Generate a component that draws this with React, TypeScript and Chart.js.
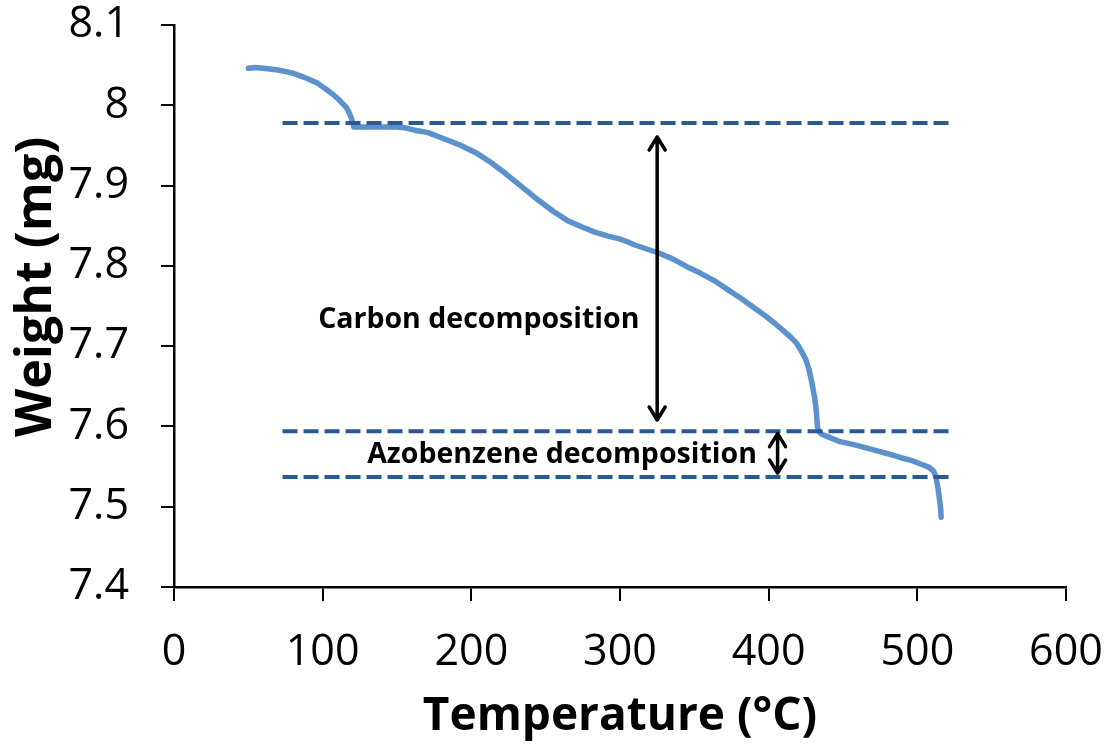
import React, { useEffect, useRef } from "react";
import { Chart, registerables } from "chart.js";

Chart.register(...registerables);

// TGA trace: sample temperature (°C) and remaining weight (mg)
const temperature = [
  50, 55, 60, 70, 80, 90, 97, 103, 108, 112, 116, 118, 119.5, 120.5, 121, 130, 140, 150, 155, 162,
  171, 182, 193, 203, 213, 223, 233, 245, 255, 265, 275, 283, 292, 299, 305, 310, 318, 326, 335, 345,
  354, 363, 372, 381, 390, 399, 405, 410, 415, 419, 422, 425, 427, 429, 431, 432, 432.8, 433.5, 436, 440,
  448, 458, 470, 480, 489, 497, 504, 508, 511, 512.5, 514, 515, 515.7, 516,
];
const weight = [
  8.046, 8.047, 8.046, 8.044, 8.04, 8.033, 8.027, 8.019, 8.012, 8.005, 7.997, 7.99, 7.983, 7.976, 7.973, 7.973, 7.973, 7.973, 7.972, 7.969,
  7.966, 7.958, 7.95, 7.941, 7.929, 7.915, 7.9, 7.882, 7.868, 7.856, 7.848, 7.842, 7.837, 7.834, 7.83, 7.826, 7.821, 7.816, 7.809, 7.799,
  7.791, 7.782, 7.771, 7.76, 7.748, 7.736, 7.727, 7.719, 7.711, 7.703, 7.694, 7.683, 7.672, 7.655, 7.635, 7.62, 7.6, 7.594, 7.59, 7.587,
  7.581, 7.577, 7.571, 7.566, 7.561, 7.557, 7.552, 7.549, 7.544, 7.537, 7.522, 7.508, 7.497, 7.487,
];

// Horizontal reference levels (mg) and the temperature span they cover
const plateauLevels = [7.978, 7.594, 7.537];
const plateauSpan = [73, 521];

// Double-headed arrows: x position (°C), top and bottom (mg)
const arrowX = [325, 406];
const arrowTop = [7.9605, 7.591];
const arrowBottom = [7.608, 7.542];

// Annotation text and anchor (°C, mg)
const noteText = ["Carbon decomposition", "Azobenzene decomposition"];
const noteX = [205, 261];
const noteY = [7.733, 7.5645];

const xTitle = "Temperature (°C)";
const yTitle = "Weight (mg)";

const CURVE = "#5B92CD";
const DASH = "#2A5A92";

const annotations = {
  id: "annotations",
  afterDatasetsDraw(chart: any) {
    const { ctx, scales } = chart;
    const xs = scales.x;
    const ys = scales.y;
    ctx.save();
    // arrows
    ctx.strokeStyle = "#000";
    ctx.lineWidth = 3.5;
    ctx.lineCap = "round";
    ctx.lineJoin = "round";
    for (let i = 0; i < arrowX.length; i++) {
      const px = xs.getPixelForValue(arrowX[i]);
      const t = ys.getPixelForValue(arrowTop[i]);
      const b = ys.getPixelForValue(arrowBottom[i]);
      const hw = 8;
      const hl = 13;
      ctx.beginPath();
      ctx.moveTo(px, t);
      ctx.lineTo(px, b);
      ctx.moveTo(px - hw, t + hl);
      ctx.lineTo(px, t);
      ctx.lineTo(px + hw, t + hl);
      ctx.moveTo(px - hw, b - hl);
      ctx.lineTo(px, b);
      ctx.lineTo(px + hw, b - hl);
      ctx.stroke();
    }
    // labels
    ctx.fillStyle = "#000";
    ctx.font = "bold 28.5px 'Open Sans'";
    ctx.textAlign = "center";
    ctx.textBaseline = "middle";
    for (let i = 0; i < noteText.length; i++) {
      ctx.fillText(noteText[i], xs.getPixelForValue(noteX[i]), ys.getPixelForValue(noteY[i]));
    }
    // vertical axis title
    ctx.font = "bold 50px 'Open Sans'";
    ctx.translate(37, 287);
    ctx.rotate(-Math.PI / 2);
    ctx.fillText(yTitle, 0, 0);
    ctx.restore();
  },
};

export default function App() {
  const ref = useRef<HTMLCanvasElement | null>(null);

  useEffect(() => {
    document.body.style.margin = "0";
    if (!ref.current) return;

    const curve = temperature.map((t, i) => ({ x: t, y: weight[i] }));
    const levels = plateauLevels.map((lv) => ({
      data: [
        { x: plateauSpan[0], y: lv },
        { x: plateauSpan[1], y: lv },
      ],
      showLine: true,
      borderColor: DASH,
      borderWidth: 4,
      borderDash: [15, 6],
      borderCapStyle: "butt",
      pointRadius: 0,
      fill: false,
    }));

    const chart = new Chart(ref.current, {
      type: "scatter",
      data: {
        datasets: [
          ...levels,
          {
            data: curve,
            showLine: true,
            borderColor: CURVE,
            borderWidth: 5.5,
            borderCapStyle: "round",
            borderJoinStyle: "round",
            pointRadius: 0,
            tension: 0,
            fill: false,
          },
        ],
      } as any,
      options: {
        animation: false,
        responsive: false,
        events: [],
        layout: { padding: { top: 25, right: 41, left: 0, bottom: 0 } },
        plugins: { legend: { display: false }, tooltip: { enabled: false } },
        scales: {
          x: {
            type: "linear",
            min: 0,
            max: 600,
            afterFit: (s: any) => {
              s.height = 160;
              s.paddingLeft = 0;
              s.paddingRight = 0;
            },
            border: { display: true, color: "#000", width: 2.5 },
            grid: { display: true, drawOnChartArea: false, drawTicks: true, tickLength: 14, color: "#000", lineWidth: 2 },
            ticks: {
              stepSize: 100,
              color: "#000",
              padding: 26,
              maxRotation: 0,
              font: { family: "'Open Sans'", size: 43 },
            },
            title: {
              display: true,
              text: xTitle,
              color: "#000",
              padding: { top: 0, bottom: 3 },
              font: { family: "'Open Sans'", size: 46, weight: "bold" },
            },
          },
          y: {
            type: "linear",
            min: 7.4,
            max: 8.1,
            afterFit: (s: any) => {
              s.width = 174;
              s.paddingTop = 0;
              s.paddingBottom = 0;
            },
            border: { display: true, color: "#000", width: 2.5 },
            grid: { display: true, drawOnChartArea: false, drawTicks: true, tickLength: 13, color: "#000", lineWidth: 2 },
            ticks: {
              stepSize: 0.1,
              color: "#000",
              padding: 32,
              font: { family: "'Open Sans'", size: 43 },
              callback: (v: any) => String(Number(Number(v).toFixed(1))),
            },
          },
        },
      },
      plugins: [annotations],
    });

    return () => chart.destroy();
  }, []);

  return (
    <div style={{ width: 1107, height: 747, background: "#fff" }}>
      <canvas ref={ref} width={1107} height={747} />
    </div>
  );
}
